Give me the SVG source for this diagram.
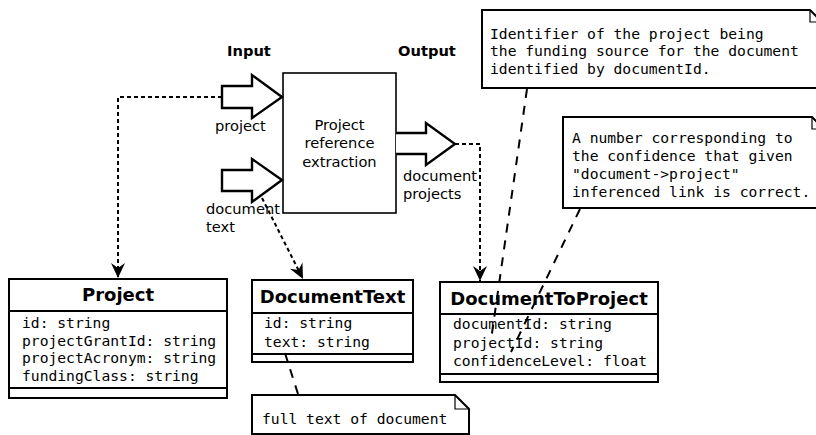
<svg xmlns="http://www.w3.org/2000/svg" width="816" height="435" viewBox="0 0 816 435">
<style>
.bg{fill:#fff}
.box{fill:#fff;stroke:#000;stroke-width:2}
.proc{fill:#fff;stroke:#000;stroke-width:1.6}
.arr{fill:#fff;stroke:#000;stroke-width:2.4;stroke-linejoin:miter}
.sep{stroke:#000;stroke-width:2}
.dot{fill:none;stroke:#000;stroke-width:2;stroke-dasharray:4 3}
.dash{fill:none;stroke:#000;stroke-width:2;stroke-dasharray:9 8}
.note{fill:#fff;stroke:#000;stroke-width:2}
.fold{fill:none;stroke:#000;stroke-width:1.2}
.lbl{font-family:"DejaVu Sans","Liberation Sans",sans-serif;font-size:14.67px;fill:#000}
.hd{font-family:"DejaVu Sans","Liberation Sans",sans-serif;font-size:14.67px;font-weight:bold;fill:#000}
.ttl{font-family:"DejaVu Sans","Liberation Sans",sans-serif;font-size:18px;font-weight:bold;fill:#000;text-anchor:middle}
.mono{font-family:"DejaVu Sans Mono","Liberation Mono",monospace;font-size:14.67px;fill:#000}
</style>
<defs>
<marker id="ah" markerUnits="userSpaceOnUse" viewBox="-16 -8 16 16" markerWidth="16" markerHeight="16" refX="0" refY="0" orient="auto" overflow="visible">
<path d="M0,0 L-15,-7 L-10,0 L-15,7 Z" fill="#000" stroke="none"/>
</marker>
</defs>
<rect class="bg" x="0" y="0" width="816" height="435"/>

<g id="labels">
<text class="hd" x="227" y="56">Input</text>
<text class="hd" x="398" y="56">Output</text>
</g>

<g id="process">
<rect class="proc" x="283" y="73" width="113" height="140"/>
<text class="lbl" x="339.5" y="130" text-anchor="middle">Project</text>
<text class="lbl" x="339.5" y="148" text-anchor="middle">reference</text>
<text class="lbl" x="339.5" y="167" text-anchor="middle">extraction</text>
</g>

<g id="input-project">
<path class="arr" d="M222,86 L252,86 L252,75 L282,97 L252,118 L252,108 L222,108 Z"/>
<text class="lbl" x="215" y="131">project</text>
</g>

<g id="input-document-text">
<path class="arr" d="M222,170 L252,170 L252,159 L282,180 L252,202 L252,191 L222,191 Z"/>
<text class="lbl" x="206" y="214">document</text>
<text class="lbl" x="206" y="232">text</text>
</g>

<g id="output-document-projects">
<path class="arr" d="M396,133 L426,133 L426,123 L455,144 L426,165 L426,154 L396,154"/>
<text class="lbl" x="403" y="181">document</text>
<text class="lbl" x="403" y="199">projects</text>
</g>

<g id="Project">
<rect class="box" x="9" y="279" width="218" height="119"/>
<line class="sep" x1="9" y1="311" x2="227" y2="311"/>
<line class="sep" x1="9" y1="388" x2="227" y2="388"/>
<text class="ttl" x="118" y="301">Project</text>
<text class="mono" x="22" y="328">id: string</text>
<text class="mono" x="22" y="345.5">projectGrantId: string</text>
<text class="mono" x="22" y="363">projectAcronym: string</text>
<text class="mono" x="22" y="381">fundingClass: string</text>
</g>

<g id="DocumentText">
<rect class="box" x="252" y="280" width="161" height="82"/>
<line class="sep" x1="252" y1="313" x2="413" y2="313"/>
<line class="sep" x1="252" y1="354" x2="413" y2="354"/>
<text class="ttl" x="332.5" y="303">DocumentText</text>
<text class="mono" x="264" y="328">id: string</text>
<text class="mono" x="264" y="346.5">text: string</text>
</g>

<g id="DocumentToProject">
<rect class="box" x="440" y="282" width="218" height="100"/>
<line class="sep" x1="440" y1="314" x2="658" y2="314"/>
<line class="sep" x1="440" y1="374" x2="658" y2="374"/>
<text class="ttl" x="549" y="305">DocumentToProject</text>
<text class="mono" x="453" y="329">documentId: string</text>
<text class="mono" x="453" y="347.5">projectId: string</text>
<text class="mono" x="453" y="366">confidenceLevel: float</text>
</g>

<g id="note-projectId">
<path class="note" d="M482,10 L810,10 L822,22 L822,88 L482,88 Z"/>
<path class="fold" d="M810,10 L810,22 L822,22"/>
<text class="mono" x="490" y="38.5">Identifier of the project being</text>
<text class="mono" x="490" y="56">the funding source for the document</text>
<text class="mono" x="490" y="73.5">identified by documentId.</text>
</g>

<g id="note-confidence">
<path class="note" d="M563,117 L812,117 L824,129 L824,208 L563,208 Z"/>
<path class="fold" d="M812,117 L812,129 L824,129"/>
<text class="mono" x="572" y="143">A number corresponding to</text>
<text class="mono" x="572" y="161">the confidence that given</text>
<text class="mono" x="572" y="179">"document-&gt;project"</text>
<text class="mono" x="572" y="197">inferenced link is correct.</text>
</g>

<g id="note-text">
<path class="note" d="M252,395 L455,395 L469,409 L469,434 L252,434 Z"/>
<path class="fold" d="M455,395 L455,409 L469,409"/>
<text class="mono" x="262" y="424">full text of document</text>
</g>

<g id="connectors">
<polyline class="dot" points="222,97 118,97 118,278" marker-end="url(#ah)"/>
<line class="dot" x1="262" y1="198" x2="303" y2="279" marker-end="url(#ah)"/>
<polyline class="dot" points="455,144 480,144 480,281" marker-end="url(#ah)"/>
<line class="dash" x1="527" y1="89" x2="491" y2="340"/>
<line class="dash" x1="580" y1="209" x2="511" y2="352"/>
<line class="dash" x1="298" y1="394" x2="284" y2="350"/>
</g>
</svg>
